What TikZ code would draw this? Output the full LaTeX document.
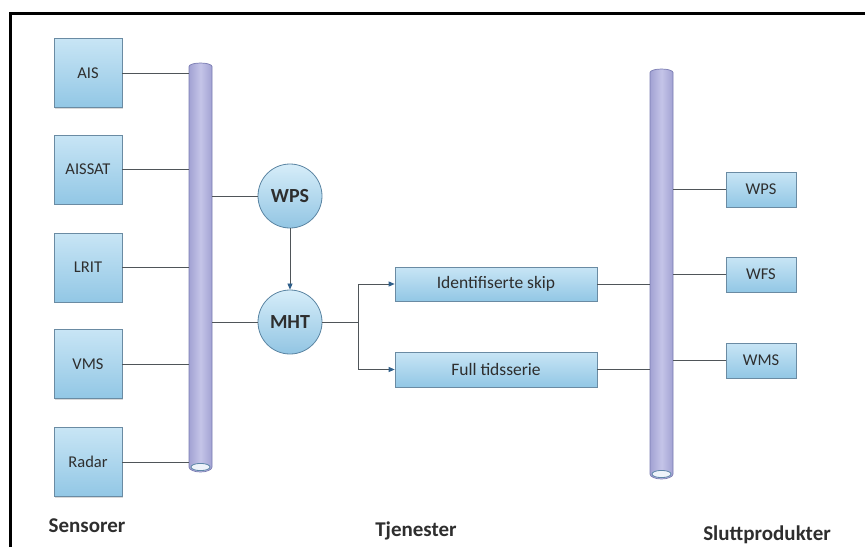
\documentclass[tikz,border=0pt]{standalone}
\usepackage{fontspec}
\setmainfont{Carlito}
\usetikzlibrary{arrows.meta,shadows}
\definecolor{boxtop}{HTML}{C8E5F5}
\definecolor{boxbot}{HTML}{92C7E5}
\definecolor{boxline}{HTML}{6A8BA3}
\definecolor{circtop}{HTML}{D6EDF9}
\definecolor{circbot}{HTML}{92C5E3}
\definecolor{circline}{HTML}{5A84A2}
\definecolor{pipeside}{HTML}{A2A2D3}
\definecolor{pipemid}{HTML}{C4C4E8}
\definecolor{pipeline}{HTML}{7A7CB2}
\definecolor{holefill}{HTML}{EEF3FA}
\definecolor{holeline}{HTML}{5E86A8}
\definecolor{connc}{HTML}{4F5559}
\definecolor{arrc}{HTML}{2F5F8A}
\definecolor{txt}{HTML}{2E2E2E}
\tikzset{
  sbox/.style={rectangle, draw=boxline, line width=0.7pt, top color=boxtop, bottom color=boxbot,
    text=txt, font=\fontsize{16.5}{18}\selectfont, inner sep=0pt,
    drop shadow={shadow xshift=1.2pt, shadow yshift=-1.2pt, opacity=0.3, fill=gray}},
  scirc/.style={circle, draw=circline, line width=0.8pt, top color=circtop, bottom color=circbot,
    text=txt, font=\fontsize{20}{22}\selectfont\bfseries, minimum size=64pt, inner sep=0pt},
  pipenode/.style={rectangle, minimum width=23pt, inner sep=0pt},
  pipeshape/.style={draw=pipeline, line width=0.7pt, left color=pipeside, right color=pipeside, middle color=pipemid},
  conn/.style={draw=connc, line width=0.7pt},
  arr/.style={draw=connc, line width=0.7pt, -{Triangle[length=6pt,width=5pt,fill=arrc,color=arrc]}},
  lbl/.style={text=txt, font=\fontsize{21}{23}\selectfont\bfseries, anchor=base, inner sep=0pt}
}
\begin{document}
\begin{tikzpicture}[x=1pt,y=1pt]
\useasboundingbox (0,0) rectangle (865,-547);
% frame
\draw[line width=3pt,black] (10.5,-547) -- (10.5,-13.5) -- (865,-13.5);

% pipes (visual)
\path[pipeshape] (189,-467) -- (189,-66.5) arc[start angle=180,end angle=0,x radius=11.5,y radius=3.5]
  -- (212,-467) arc[start angle=0,end angle=-180,x radius=11.5,y radius=5] -- cycle;
\draw[holeline, fill=holefill, line width=0.8pt] (200.5,-467) ellipse[x radius=9.5, y radius=3.6];
\path[pipeshape] (650,-474) -- (650,-72.5) arc[start angle=180,end angle=0,x radius=11.5,y radius=3.5]
  -- (673,-474) arc[start angle=0,end angle=-180,x radius=11.5,y radius=5] -- cycle;
\draw[holeline, fill=holefill, line width=0.8pt] (661.5,-474) ellipse[x radius=9.5, y radius=3.6];
\node[pipenode, minimum height=410pt] (pl) at (200.5,-268) {};
\node[pipenode, minimum height=411pt] (pr) at (661.5,-274.5) {};

% sensors
\node[sbox, minimum width=68pt, minimum height=69pt] (ais) at (88,-73) {AIS};
\node[sbox, minimum width=68pt, minimum height=69pt] (aissat) at (88,-169.5) {AISSAT};
\node[sbox, minimum width=68pt, minimum height=69pt] (lrit) at (88,-267.5) {LRIT};
\node[sbox, minimum width=68pt, minimum height=69pt] (vms) at (88,-364) {VMS};
\node[sbox, minimum width=68pt, minimum height=69pt] (radar) at (88,-462) {Radar};

% services
\node[scirc] (wps) at (290,-196) {WPS};
\node[scirc] (mht) at (290,-322) {MHT};
\node[sbox, minimum width=202pt, minimum height=34pt, font=\fontsize{17.5}{19}\selectfont] (ids) at (496,-284) {Identifiserte skip};
\node[sbox, minimum width=202pt, minimum height=35pt, font=\fontsize{17.5}{19}\selectfont] (fts) at (496,-369.5) {Full tidsserie};
\coordinate (j) at (358,-322);

% end products
\node[sbox, minimum width=70pt, minimum height=35pt] (rwps) at (761,-189.5) {WPS};
\node[sbox, minimum width=70pt, minimum height=35pt] (rwfs) at (761,-274.5) {WFS};
\node[sbox, minimum width=70pt, minimum height=35pt] (rwms) at (761,-360.5) {WMS};

% connectors
\foreach \n in {ais,aissat,lrit,vms,radar}
  \draw[conn] (\n.east) -- (\n.east -| pl.west);
\draw[conn] (wps.west -| pl.east) -- (wps.west);
\draw[conn] (mht.west -| pl.east) -- (mht.west);
\draw[arr] (wps.south) -- (mht.north);
\draw[conn] (mht.east) -- (j);
\draw[arr] (j) |- (ids.west);
\draw[arr] (j) |- (fts.west);
\draw[conn] (ids.east) -- (ids.east -| pr.west);
\draw[conn] (fts.east) -- (fts.east -| pr.west);
\foreach \n in {rwps,rwfs,rwms}
  \draw[conn] (\n.west -| pr.east) -- (\n.west);

% labels
\node[lbl] (lsens) at (87,-532) {Sensorer};
\node[lbl] (ltjen) at (416,-536) {Tjenester};
\node[lbl] (lslutt) at (767,-540) {Sluttprodukter};
\end{tikzpicture}
\end{document}
